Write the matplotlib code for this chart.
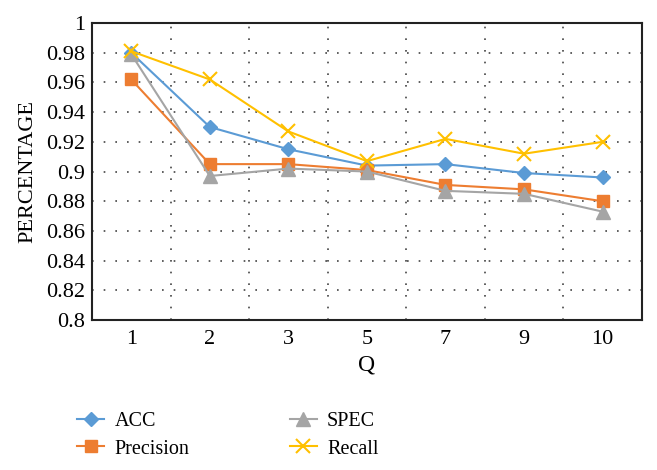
import matplotlib.pyplot as plt
import numpy as np

q_labels = ['1', '2', '3', '5', '7', '9', '10']
acc = [0.980, 0.930, 0.915, 0.904, 0.905, 0.899, 0.896]
precision = [0.962, 0.905, 0.905, 0.901, 0.891, 0.888, 0.880]
spec = [0.979, 0.897, 0.902, 0.900, 0.887, 0.885, 0.873]
recall = [0.981, 0.962, 0.927, 0.907, 0.922, 0.912, 0.920]

plt.rcParams['font.family'] = ['Liberation Serif', 'DejaVu Serif']

fig = plt.figure(figsize=(6.57, 4.7), dpi=100)
ax = fig.add_axes([0.140, 0.319, 0.837, 0.632])

x = np.arange(len(q_labels))
ax.plot(x, acc, color='#5B9BD5', marker='D', markersize=7, lw=1.5, label='ACC')
ax.plot(x, precision, color='#ED7D31', marker='s', markersize=9, lw=1.5, label='Precision')
ax.plot(x, spec, color='#A5A5A5', marker='^', markersize=10, lw=1.5, label='SPEC')
ax.plot(x, recall, color='#FFC000', marker='x', markersize=10, mew=1.5, lw=1.5, label='Recall')

ax.set_xlim(-0.5, len(q_labels) - 0.5)
ax.set_ylim(0.8, 1.0)
ax.set_xticks(x)
ax.set_xticklabels(q_labels)
ax.set_yticks(np.arange(0.8, 1.001, 0.02))
ax.set_yticklabels(['0.8', '0.82', '0.84', '0.86', '0.88', '0.9', '0.92', '0.94', '0.96', '0.98', '1'])
ax.set_xticks(np.arange(0.5, len(q_labels) - 1, 1), minor=True)
ax.tick_params(axis='both', which='both', length=0, labelsize=16)
ax.tick_params(axis='x', pad=7)
ax.tick_params(axis='y', pad=5)

ax.grid(True, axis='y', which='major', color='#444444', linestyle=(0, (1, 6)), lw=1.2)
ax.grid(True, axis='x', which='minor', color='#444444', linestyle=(0, (1, 6)), lw=1.2)
ax.grid(False, axis='x', which='major')

for s in ax.spines.values():
    s.set_color('#222222')
    s.set_linewidth(1.5)

ax.set_xlabel('Q', fontsize=17, labelpad=4)
ax.set_ylabel('PERCENTAGE', fontsize=16, labelpad=6)

fig.legend(loc='upper left', bbox_to_anchor=(0.105, 0.14), ncol=2, frameon=False,
           fontsize=14.5, columnspacing=5.0, handlelength=1.35, labelspacing=0.4,
           handletextpad=0.5, borderaxespad=0)

fig.savefig('out.png', dpi=100)
